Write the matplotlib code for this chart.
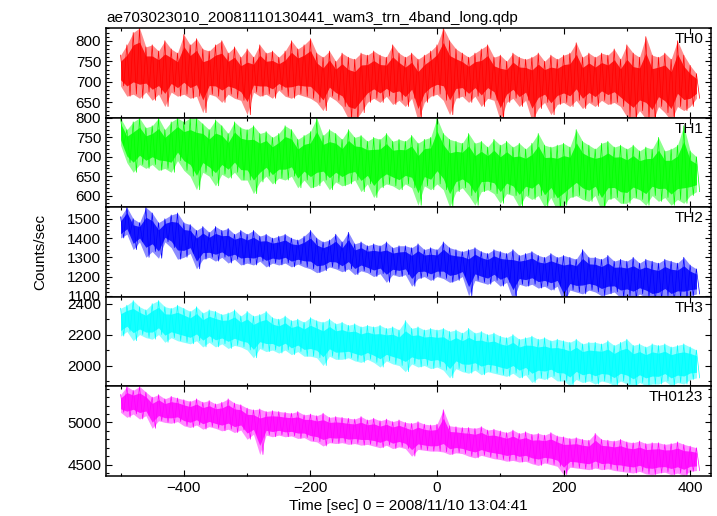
import numpy as np
import matplotlib
matplotlib.use("Agg")
import matplotlib.pyplot as plt
from matplotlib.ticker import MultipleLocator

plt.rcParams['font.family'] = ['Liberation Sans', 'DejaVu Sans']

# ---------------- data ----------------
title = "ae703023010_20081110130441_wam3_trn_4band_long.qdp"
xlabel = "Time [sec] 0 = 2008/11/10 13:04:41"
ylabel = "Counts/sec"
band_names = ["TH0", "TH1", "TH2", "TH3", "TH0123"]
band_colors = ["#ff0000", "#00ff00", "#0000ff", "#00ffff", "#ff00ff"]

# time of each 10 s bin (sec)
time_bins = np.arange(-500, 411, 10)

th0_hi = [765, 790, 820, 831, 785, 790, 775, 800, 780, 770, 815, 790, 805, 780, 775,
          790, 800, 770, 785, 760, 780, 760, 790, 770, 775, 760, 775, 800, 780, 790,
          805, 770, 760, 775, 750, 770, 760, 755, 770, 765, 775, 765, 760, 790, 770,
          760, 770, 755, 765, 775, 790, 831, 800, 780, 770, 760, 770, 780, 790, 760,
          765, 750, 770, 760, 755, 760, 770, 750, 765, 755, 765, 770, 795, 760, 770,
          760, 770, 765, 780, 755, 790, 770, 760, 810, 765, 760, 770, 755, 800, 765,
          740, 720]
th0_lo = [690, 665, 670, 660, 675, 655, 670, 640, 675, 665, 670, 660, 665, 625, 670,
          665, 650, 670, 660, 655, 620, 675, 665, 670, 660, 680, 665, 660, 670, 665,
          660, 650, 630, 665, 655, 640, 610, 605, 625, 650, 660, 650, 665, 645, 655,
          640, 660, 605, 650, 665, 670, 655, 620, 660, 665, 650, 665, 640, 660, 655,
          605, 650, 660, 640, 655, 605, 635, 650, 620, 645, 650, 640, 655, 635, 650,
          640, 655, 645, 650, 640, 615, 605, 630, 610, 600, 640, 625, 605, 640, 630,
          640, 660]

th1_hi = [800, 770, 790, 800, 775, 780, 800, 770, 790, 800, 790, 800, 800, 785, 770,
          795, 780, 760, 790, 775, 770, 780, 760, 765, 750, 760, 780, 770, 745, 755,
          765, 800, 755, 770, 760, 745, 770, 750, 755, 740, 750, 745, 760, 740, 745,
          740, 755, 735, 745, 750, 800, 760, 745, 740, 735, 760, 735, 740, 725, 745,
          730, 740, 725, 735, 720, 735, 760, 730, 725, 730, 735, 725, 770, 740, 730,
          720, 735, 740, 725, 730, 720, 730, 715, 725, 720, 750, 715, 720, 730, 780,
          715, 700]
th1_lo = [730, 685, 660, 680, 670, 680, 665, 670, 660, 690, 665, 650, 615, 660, 650,
          625, 655, 645, 660, 640, 640, 605, 635, 650, 630, 645, 640, 650, 620, 640,
          620, 625, 640, 615, 635, 625, 630, 640, 610, 630, 595, 620, 630, 625, 615,
          630, 620, 575, 625, 615, 630, 615, 570, 610, 620, 600, 575, 610, 615, 605,
          580, 605, 600, 570, 600, 590, 600, 570, 595, 560, 575, 595, 600, 590, 585,
          600, 560, 590, 595, 580, 580, 595, 590, 575, 600, 585, 595, 575, 590, 580,
          600, 610]

th2_hi = [1510, 1560, 1500, 1480, 1560, 1530, 1480, 1500, 1520, 1530, 1480, 1470, 1440, 1460, 1430,
          1460, 1440, 1450, 1420, 1440, 1420, 1440, 1410, 1420, 1400, 1410, 1420, 1400, 1390, 1410,
          1440, 1400, 1380, 1390, 1420, 1380, 1430, 1370, 1380, 1360, 1370, 1360, 1380, 1350, 1360,
          1360, 1350, 1370, 1340, 1350, 1340, 1380, 1350, 1340, 1330, 1340, 1350, 1330, 1320, 1340,
          1330, 1320, 1340, 1310, 1320, 1330, 1310, 1300, 1320, 1300, 1310, 1300, 1290, 1340, 1300,
          1300, 1290, 1310, 1280, 1290, 1280, 1300, 1270, 1290, 1280, 1270, 1290, 1280, 1270, 1300,
          1260, 1240]
th2_lo = [1400, 1420, 1340, 1380, 1300, 1330, 1295, 1380, 1350, 1290, 1300, 1320, 1240, 1290, 1300,
          1280, 1300, 1270, 1290, 1260, 1270, 1260, 1280, 1250, 1270, 1260, 1270, 1250, 1265, 1250,
          1240, 1220, 1230, 1250, 1240, 1225, 1240, 1210, 1230, 1220, 1200, 1215, 1170, 1210, 1200,
          1210, 1150, 1190, 1200, 1180, 1200, 1190, 1170, 1180, 1200, 1100, 1180, 1170, 1160, 1180,
          1150, 1170, 1080, 1160, 1150, 1160, 1140, 1150, 1130, 1150, 1060, 1130, 1120, 1110, 1130,
          1120, 1100, 1110, 1120, 1090, 1100, 1080, 1110, 1090, 1070, 1080, 1100, 1070, 1090, 1080,
          1100, 1110]

th3_hi = [2370, 2390, 2420, 2380, 2360, 2400, 2420, 2380, 2370, 2390, 2370, 2350, 2380, 2340, 2360,
          2350, 2330, 2340, 2360, 2320, 2350, 2320, 2330, 2350, 2310, 2300, 2320, 2290, 2300, 2280,
          2310, 2290, 2280, 2300, 2270, 2280, 2260, 2270, 2250, 2260, 2250, 2260, 2240, 2250, 2230,
          2290, 2240, 2250, 2230, 2240, 2230, 2240, 2220, 2230, 2210, 2240, 2210, 2220, 2200, 2210,
          2190, 2180, 2200, 2170, 2180, 2190, 2170, 2180, 2160, 2170, 2160, 2150, 2170, 2140, 2150,
          2150, 2140, 2160, 2130, 2150, 2170, 2130, 2140, 2120, 2140, 2130, 2140, 2120, 2130, 2140,
          2120, 2100]
th3_lo = [2190, 2220, 2160, 2200, 2180, 2170, 2200, 2150, 2180, 2160, 2150, 2140, 2160, 2120, 2150,
          2120, 2140, 2110, 2130, 2120, 2100, 2050, 2110, 2090, 2100, 2080, 2100, 2070, 2090, 2060,
          2060, 2050, 2000, 2060, 2040, 2040, 2050, 2030, 2020, 2040, 2020, 1990, 2030, 2010, 2000,
          1960, 2010, 1990, 2000, 1980, 1990, 1970, 1920, 1980, 1960, 1950, 1970, 1940, 1960, 1950,
          1940, 1930, 1950, 1920, 1940, 1890, 1920, 1910, 1930, 1900, 1900, 1870, 1910, 1890, 1900,
          1880, 1900, 1890, 1870, 1900, 1880, 1860, 1890, 1870, 1880, 1880, 1900, 1870, 1890, 1880,
          1910, 1920]

th0123_hi = [5330, 5427, 5380, 5427, 5360, 5300, 5330, 5280, 5310, 5290, 5270, 5250, 5280, 5240, 5260,
             5220, 5240, 5280, 5230, 5210, 5170, 5150, 5160, 5130, 5140, 5130, 5120, 5110, 5130, 5090,
             5100, 5080, 5110, 5060, 5070, 5060, 5050, 5040, 5070, 5030, 5050, 5020, 5040, 5010, 5030,
             5000, 4990, 5010, 4980, 4970, 4980, 5150, 4960, 4950, 4940, 4940, 4930, 4950, 4910, 4920,
             4900, 4880, 4910, 4870, 4890, 4860, 4870, 4850, 4880, 4840, 4830, 4810, 4820, 4800, 4790,
             4870, 4800, 4790, 4780, 4800, 4770, 4760, 4780, 4750, 4760, 4760, 4740, 4750, 4770, 4740,
             4720, 4700]
th0123_lo = [5120, 5060, 5100, 5040, 5080, 4930, 5020, 5000, 4990, 5010, 4960, 4940, 4970, 4920, 4950,
             4930, 4900, 4920, 4880, 4910, 4800, 4860, 4620, 4850, 4830, 4850, 4830, 4840, 4810, 4820,
             4780, 4770, 4720, 4760, 4750, 4760, 4740, 4750, 4730, 4740, 4720, 4700, 4730, 4690, 4710,
             4690, 4600, 4680, 4670, 4660, 4660, 4650, 4620, 4640, 4630, 4600, 4580, 4610, 4590, 4570,
             4560, 4540, 4550, 4530, 4540, 4510, 4490, 4520, 4500, 4480, 4380, 4470, 4460, 4450, 4440,
             4460, 4440, 4450, 4430, 4420, 4410, 4400, 4420, 4390, 4380, 4400, 4410, 4380, 4400, 4370,
             4420, 4430]

band_hi = [th0_hi, th1_hi, th2_hi, th3_hi, th0123_hi]
band_lo = [th0_lo, th1_lo, th2_lo, th3_lo, th0123_lo]

# ---------------- layout ----------------
ylims = [(613, 831), (570, 801), (1095, 1560), (1865, 2444), (4365, 5427)]
ymajor = [50, 50, 100, 200, 500]
yminor = [10, 10, 20, 100, 100]

W, H = 717, 516
fig = plt.figure(figsize=(W / 100, H / 100), dpi=100)
left, right, top, bottom = 106 / W, 711 / W, 1 - 28 / H, 1 - 476 / H
axes = fig.subplots(5, 1, sharex=True,
                    gridspec_kw=dict(hspace=0, left=left, right=right, top=top, bottom=bottom))

half_step = 5
for ax, name, col, hi, lo, yl, mj, mn in zip(axes, band_names, band_colors, band_hi, band_lo,
                                             ylims, ymajor, yminor):
    hi = np.asarray(hi, float)
    lo = np.asarray(lo, float)
    mid = (hi + lo) / 2
    half = (hi - lo) / 2
    ax.fill_between(time_bins, lo, hi, color=col, alpha=0.45, lw=0)
    ax.fill_between(time_bins, mid - 0.6 * half, mid + 0.6 * half, color=col, alpha=0.85, lw=0)
    xs = np.empty(2 * len(time_bins))
    ys = np.empty(2 * len(time_bins))
    xs[0::2] = time_bins
    xs[1::2] = time_bins + half_step
    ys[0::2] = hi
    ys[1::2] = lo
    ax.plot(xs, ys, color=col, lw=0.5)

    ax.set_ylim(*yl)
    ax.yaxis.set_major_locator(MultipleLocator(mj))
    ax.yaxis.set_minor_locator(MultipleLocator(mn))
    ax.text(0.987, 0.955, name, transform=ax.transAxes, ha='right', va='top', fontsize=11)
    ax.tick_params(which='both', direction='in', top=True, right=True, labelsize=11)
    ax.tick_params(which='major', length=4.5, width=0.8)
    ax.tick_params(which='minor', length=2.3, width=0.8)
    for s in ax.spines.values():
        s.set_linewidth(1.1)

axes[-1].set_xlim(-523, 433)
axes[-1].xaxis.set_major_locator(MultipleLocator(200))
axes[-1].xaxis.set_minor_locator(MultipleLocator(100))
axes[-1].set_xlabel(xlabel, fontsize=11, labelpad=3)
axes[0].set_title(title, fontsize=11, loc='left', pad=4)
fig.text(40 / W, (top + bottom) / 2, ylabel, rotation=90, ha='center', va='center', fontsize=11)

fig.savefig("out.png", dpi=100)
